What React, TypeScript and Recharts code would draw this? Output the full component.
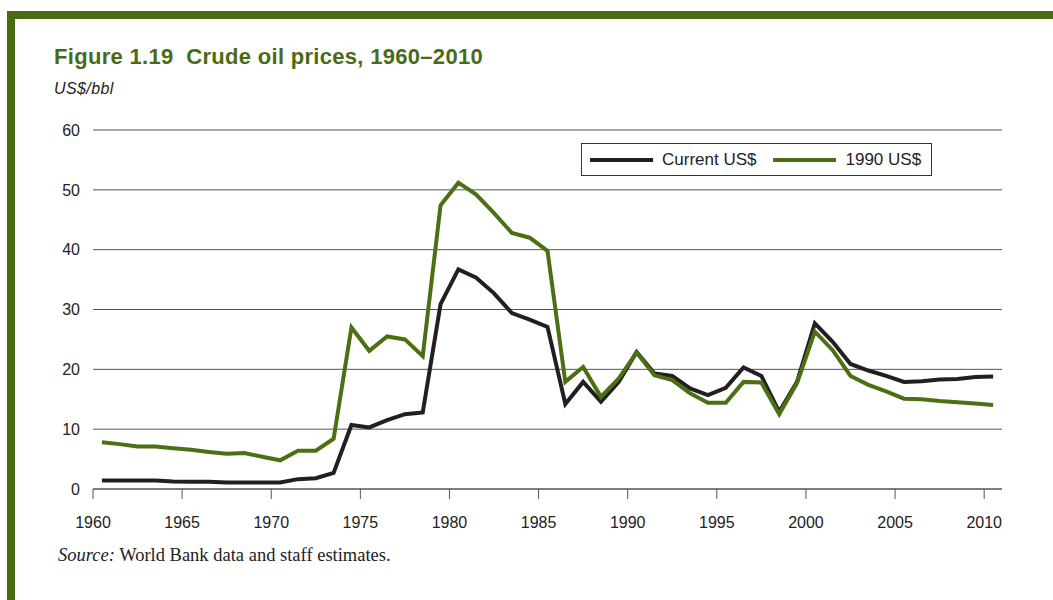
import { LineChart, Line, XAxis, YAxis, CartesianGrid, Legend } from 'recharts';

const years = [
    1960, 1961, 1962, 1963, 1964, 1965, 1966, 1967, 1968, 1969,
    1970, 1971, 1972, 1973, 1974, 1975, 1976, 1977, 1978, 1979,
    1980, 1981, 1982, 1983, 1984, 1985, 1986, 1987, 1988, 1989,
    1990, 1991, 1992, 1993, 1994, 1995, 1996, 1997, 1998, 1999,
    2000, 2001, 2002, 2003, 2004, 2005, 2006, 2007, 2008, 2009, 2010,
];

// nominal price, US$/bbl
const currentUsd = [
    1.4, 1.4, 1.4, 1.4, 1.25, 1.2, 1.2, 1.1, 1.1, 1.1,
    1.1, 1.65, 1.8, 2.7, 10.7, 10.3, 11.5, 12.5, 12.8, 30.9,
    36.7, 35.3, 32.7, 29.4, 28.3, 27.1, 14.2, 17.9, 14.6, 17.9,
    22.9, 19.3, 18.9, 16.8, 15.7, 16.9, 20.3, 18.9, 12.9, 17.9,
    27.7, 24.6, 20.9, 19.8, 18.9, 17.9, 18.0, 18.3, 18.4, 18.7, 18.8,
];

// deflated to 1990 dollars
const usd1990 = [
    7.8, 7.5, 7.1, 7.1, 6.8, 6.55, 6.2, 5.9, 6.0, 5.4,
    4.8, 6.4, 6.4, 8.4, 27.0, 23.1, 25.5, 25.0, 22.2, 47.4,
    51.2, 49.2, 46.1, 42.8, 42.0, 39.8, 17.9, 20.4, 15.4, 18.5,
    22.8, 19.0, 18.2, 16.0, 14.4, 14.4, 17.9, 17.8, 12.5, 17.7,
    26.3, 23.2, 18.9, 17.4, 16.3, 15.1, 15.0, 14.7, 14.5, 14.3, 14.05,
];

const seriesNames = ['Current US$', '1990 US$'];
const xTicks = [1960, 1965, 1970, 1975, 1980, 1985, 1990, 1995, 2000, 2005, 2010];
const yTicks = [0, 10, 20, 30, 40, 50, 60];

const GREEN = '#4a6b16';
const LINE_GREEN = '#4b7014';
const BLACK = '#231f20';
const SANS = '"Liberation Sans", Arial, sans-serif';

// annual averages are plotted at mid-year
const data = years.map((year, i) => ({
    year: year + 0.5,
    current: currentUsd[i],
    real: usd1990[i],
}));

function LegendBox({ payload }: any) {
    // keep series order (recharts sorts by name otherwise)
    const items = [...(payload || [])].sort(
        (a: any, b: any) => seriesNames.indexOf(a.value) - seriesNames.indexOf(b.value)
    );
    return (
        <div style={{
            border: '1px solid #333', height: 31, boxSizing: 'content-box',
            display: 'flex', alignItems: 'center', paddingLeft: 8,
            fontFamily: SANS, fontSize: 17, color: '#222',
        }}>
            {items.map((item: any, i: number) => (
                <div key={item.value} style={{ display: 'flex', alignItems: 'center', marginLeft: i === 0 ? 0 : 17 }}>
                    <div style={{ width: 63, height: 4, background: item.color, marginRight: 9 }} />
                    <span>{item.value}</span>
                </div>
            ))}
        </div>
    );
}

export default function App() {
    return (
        <div style={{ position: 'absolute', left: 0, top: 0, width: 1053, height: 600, background: '#fff', overflow: 'hidden' }}>
            <div style={{
                position: 'absolute', left: 7, top: 11, right: 0, bottom: 0,
                borderTop: `8px solid ${GREEN}`, borderLeft: `8px solid ${GREEN}`,
            }} />
            <div style={{
                position: 'absolute', left: 54, top: 46, fontFamily: SANS, letterSpacing: 0.3,
                fontWeight: 'bold', fontSize: 22, lineHeight: '22px', color: GREEN, whiteSpace: 'pre',
            }}>
                Figure 1.19  Crude oil prices, 1960–2010
            </div>
            <div style={{
                position: 'absolute', left: 54, top: 81, fontFamily: SANS, letterSpacing: 0.4,
                fontStyle: 'italic', fontSize: 16, lineHeight: '16px', color: '#222',
            }}>
                US$/bbl
            </div>

            <div style={{ position: 'absolute', left: 0, top: 0 }}>
                <LineChart width={1053} height={600} data={data} margin={{ top: 130, right: 51, left: 53, bottom: 81 }}>
                    <CartesianGrid vertical={false} stroke="#555" />
                    <XAxis
                        dataKey="year"
                        type="number"
                        domain={[1960, 2011]}
                        ticks={xTicks}
                        height={30}
                        stroke="#555"
                        tickSize={10}
                        tickMargin={18}
                        tick={{ fill: '#222', fontSize: 16, fontFamily: SANS }}
                    />
                    <YAxis
                        type="number"
                        domain={[0, 60]}
                        ticks={yTicks}
                        width={40}
                        axisLine={false}
                        tickLine={false}
                        tickMargin={7}
                        tick={{ fill: '#222', fontSize: 16, fontFamily: SANS }}
                    />
                    <Legend
                        layout="horizontal"
                        verticalAlign="middle"
                        content={<LegendBox />}
                        wrapperStyle={{ left: 581, top: 143, width: 351, height: 33 }}
                    />
                    <Line dataKey="current" name="Current US$" stroke={BLACK} strokeWidth={4} dot={false} isAnimationActive={false} />
                    <Line dataKey="real" name="1990 US$" stroke={LINE_GREEN} strokeWidth={4} dot={false} isAnimationActive={false} />
                </LineChart>
            </div>

            <div style={{
                position: 'absolute', left: 58, top: 546, fontFamily: '"Liberation Serif", "Times New Roman", serif',
                fontSize: 18.5, lineHeight: '18px', color: '#222',
            }}>
                <i>Source:</i> World Bank data and staff estimates.
            </div>
        </div>
    );
}
